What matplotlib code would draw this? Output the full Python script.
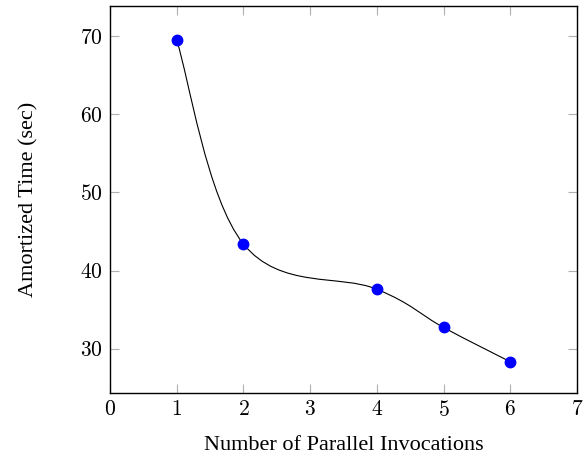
import matplotlib
matplotlib.use("Agg")
import matplotlib.pyplot as plt
import numpy as np
from matplotlib.path import Path
from matplotlib.patches import PathPatch

# data
invocations = [1, 2, 4, 5, 6]
amortized_time = [69.5, 43.4, 37.6, 32.7, 28.3]
x_ticks = [0, 1, 2, 3, 4, 5, 6, 7]
y_ticks = [30, 40, 50, 60, 70]

plt.rcParams['font.family'] = 'serif'
plt.rcParams['font.serif'] = ['cmr10', 'DejaVu Serif']
plt.rcParams['axes.formatter.use_mathtext'] = True
plt.rcParams['mathtext.fontset'] = 'cm'


def smooth_path(xs, ys, tension=0.55):
    """TikZ-like smooth curve through the points (cubic bezier segments)."""
    pts = np.column_stack([xs, ys]).astype(float)
    n = len(pts)
    verts = [pts[0]]
    codes = [Path.MOVETO]
    k = tension / 3.0
    for i in range(n - 1):
        p0 = pts[i - 1] if i > 0 else pts[i]
        p1 = pts[i]
        p2 = pts[i + 1]
        p3 = pts[i + 2] if i + 2 < n else pts[i + 1]
        c1 = p1 + k * (p2 - p0)
        c2 = p2 - k * (p3 - p1)
        verts += [c1, c2, p2]
        codes += [Path.CURVE4] * 3
    return Path(verts, codes)


fig = plt.figure(figsize=(5.85, 4.58), dpi=100)
ax = fig.add_axes([110 / 585, 1 - 393 / 458, 467 / 585, 387 / 458])

ax.add_patch(PathPatch(smooth_path(invocations, amortized_time),
                       facecolor='none', edgecolor='black', lw=0.8, zorder=2))
ax.plot(invocations, amortized_time, 'o', color='blue', markersize=7.5,
        linestyle='none', zorder=3)

ax.set_xlim(0, 7)
ax.set_ylim(24.3, 73.9)
ax.set_xticks(x_ticks)
ax.set_yticks(y_ticks)
ax.tick_params(direction='in', length=6.5, width=0.8, color='#b0b0b0',
               top=True, right=True, labelsize=15.5, pad=5)
for s in ax.spines.values():
    s.set_linewidth(1.0)

label_font = dict(family='Liberation Serif', size=16)
ax.set_xlabel('Number of Parallel Invocations', fontdict=label_font, labelpad=11.5)
ax.set_ylabel('Amortized Time (sec)', fontdict=label_font, labelpad=30)

fig.savefig('out.png', dpi=100)
